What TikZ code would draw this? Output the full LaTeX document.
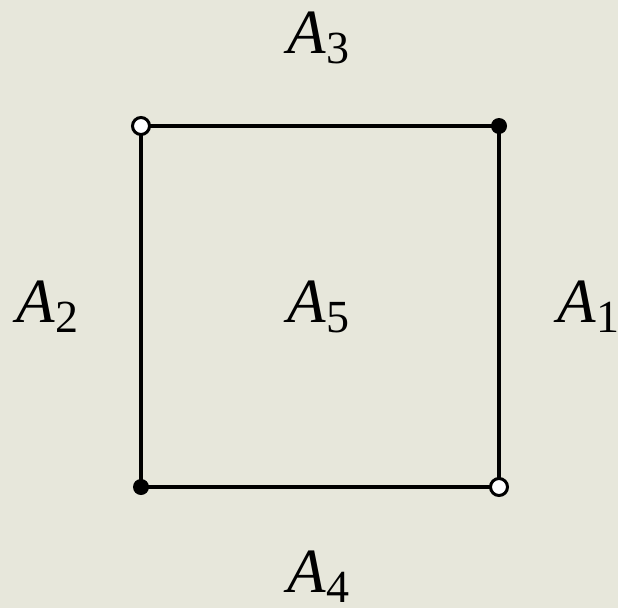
\documentclass[tikz,border=0pt]{standalone}
\usepackage{fontspec}
\setmainfont{Liberation Serif}
\definecolor{bgpaper}{RGB}{231,231,219}
\newcommand{\lbl}[1]{{\fontsize{63}{63}\selectfont\itshape A}\kern1pt\raisebox{-10pt}{\fontsize{46}{46}\selectfont #1}}
\tikzset{
  edge/.style={line width=3.2pt},
  opendot/.style={circle, draw, line width=3pt, fill=white, minimum size=17pt, inner sep=0pt},
  fulldot/.style={circle, fill=black, minimum size=16pt, inner sep=0pt},
  lab/.style={anchor=base west, inner sep=0pt}
}
\begin{document}
\begin{tikzpicture}[x=1pt,y=-1pt]
\fill[bgpaper] (0,0) rectangle (618,608);
\useasboundingbox (0,0) rectangle (618,608);
\coordinate (tl) at (141,126);
\coordinate (tr) at (499,126);
\coordinate (br) at (499,487);
\coordinate (bl) at (141,487);
\draw[edge] (tl) -- (tr) -- (br) -- (bl) -- cycle;
\node[opendot] (ctl) at (tl) {};
\node[fulldot] (ctr) at (tr) {};
\node[opendot] (cbr) at (br) {};
\node[fulldot] (cbl) at (bl) {};
\node[lab] (a3) at (287,53) {\lbl{3}};
\node[lab] (a2) at (16,322) {\lbl{2}};
\node[lab] (a5) at (287,322) {\lbl{5}};
\node[lab] (a1) at (557,322) {\lbl{1}};
\node[lab] (a4) at (287,592) {\lbl{4}};
\end{tikzpicture}
\end{document}
